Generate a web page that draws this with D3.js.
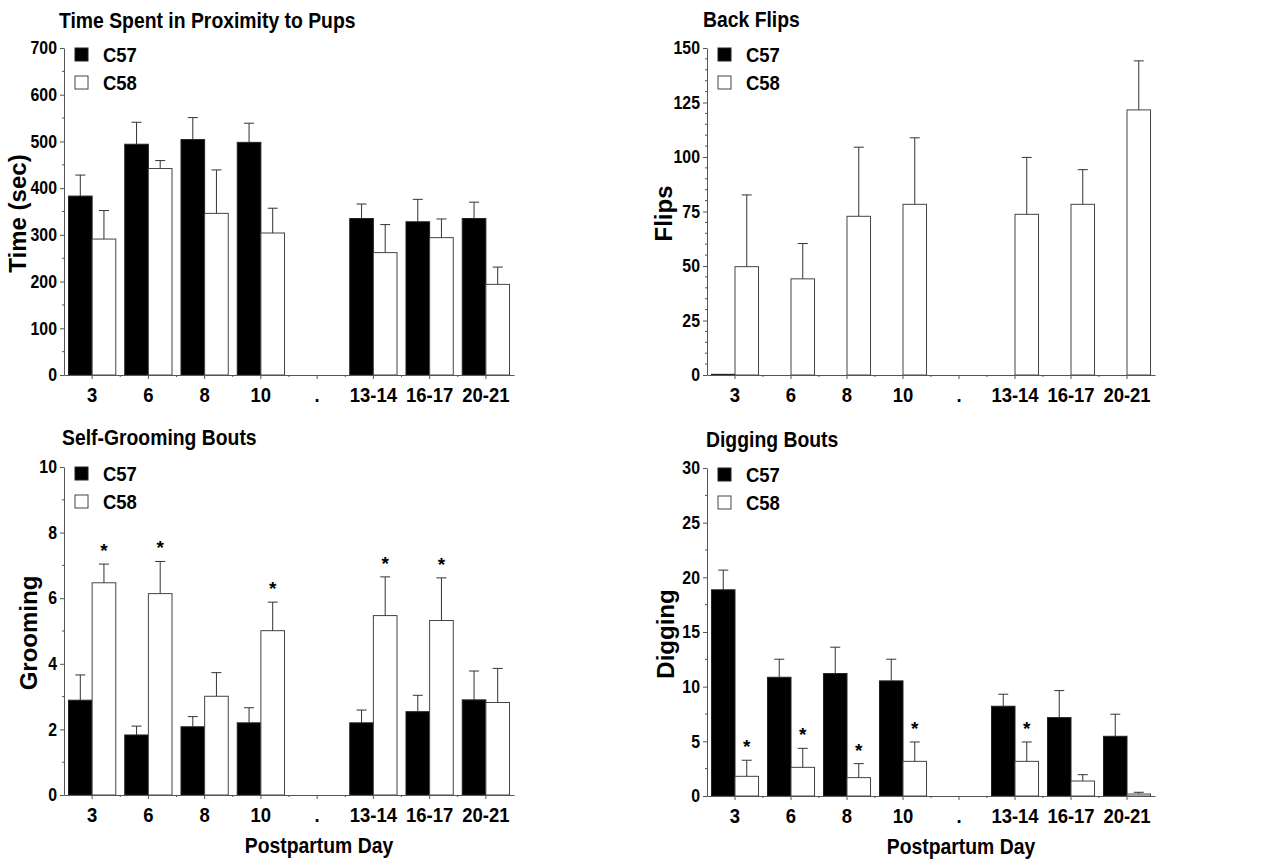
<!DOCTYPE html>
<html>
<head>
<meta charset="utf-8">
<script src="https://cdn.jsdelivr.net/npm/d3@7.9.0/dist/d3.min.js"></script>
<style>
    body { margin: 0; background: #fff; }
    svg text { font-family: "Liberation Sans", Arial, sans-serif; font-weight: bold; fill: #000; }
</style>
</head>
<body>
<svg id="chart" width="1285" height="861"></svg>
<script>
const days = ['3', '6', '8', '10', '.', '13-14', '16-17', '20-21'];
const strains = ['C57', 'C58'];

// time spent in proximity to pups (sec)
const proxC57 = [383, 494, 504, 498, null, 335, 328, 335];
const proxC57Err = [428, 541, 551, 539, null, 366, 376, 370];
const proxC58 = [291, 442, 346, 304, null, 262, 294, 194];
const proxC58Err = [352, 459, 439, 357, null, 322, 334, 231];

// back flips
const flipC57 = [0.3, 0, 0, 0, null, 0, 0, 0];
const flipC57Err = [0.3, 0, 0, 0, null, 0, 0, 0];
const flipC58 = [49.7, 44.1, 72.8, 78.3, null, 73.7, 78.3, 121.6];
const flipC58Err = [82.6, 60.3, 104.5, 108.8, null, 99.8, 94.2, 144.1];

// self-grooming bouts
const groomC57 = [2.89, 1.83, 2.08, 2.2, null, 2.2, 2.54, 2.9];
const groomC57Err = [3.66, 2.1, 2.39, 2.66, null, 2.59, 3.04, 3.78];
const groomC58 = [6.47, 6.14, 3.01, 5.01, null, 5.47, 5.32, 2.82];
const groomC58Err = [7.04, 7.12, 3.73, 5.88, null, 6.65, 6.62, 3.86];
const groomSig = ['3', '6', '10', '13-14', '16-17'];

// digging bouts
const digC57 = [18.86, 10.86, 11.2, 10.53, null, 8.21, 7.17, 5.46];
const digC57Err = [20.66, 12.51, 13.61, 12.51, null, 9.31, 9.64, 7.48];
const digC58 = [1.8, 2.62, 1.68, 3.17, null, 3.17, 1.37, 0.18];
const digC58Err = [3.27, 4.36, 2.96, 4.94, null, 4.94, 1.95, 0.34];
const digSig = ['3', '6', '8', '10', '13-14'];

const svg = d3.select('#chart');
const narrow = 'scale(0.88,1)';
const axisColor = '#555';

const panels = [
    {
        title: 'Time Spent in Proximity to Pups', yLabel: 'Time (sec)',
        left: 64, top: 48, width: 450, height: 327,
        max: 700, step: 100, minor: 50,
        c57: proxC57, c57Err: proxC57Err, c58: proxC58, c58Err: proxC58Err, sig: [],
        titleX: 59, titleY: 28, yLabelX: 26, xTitle: false,
    },
    {
        title: 'Back Flips', yLabel: 'Flips',
        left: 707, top: 48, width: 448, height: 327,
        max: 150, step: 25, minor: 5,
        c57: flipC57, c57Err: flipC57Err, c58: flipC58, c58Err: flipC58Err, sig: [],
        titleX: 703, titleY: 27, yLabelX: 672, xTitle: false,
    },
    {
        title: 'Self-Grooming Bouts', yLabel: 'Grooming',
        left: 64, top: 467, width: 450, height: 328,
        max: 10, step: 2, minor: 1,
        c57: groomC57, c57Err: groomC57Err, c58: groomC58, c58Err: groomC58Err, sig: groomSig,
        titleX: 62, titleY: 445, yLabelX: 37, xTitle: true,
    },
    {
        title: 'Digging Bouts', yLabel: 'Digging',
        left: 707, top: 468, width: 448, height: 328,
        max: 30, step: 5, minor: 2.5,
        c57: digC57, c57Err: digC57Err, c58: digC58, c58Err: digC58Err, sig: digSig,
        titleX: 706, titleY: 447, yLabelX: 674, xTitle: true,
    },
];

function drawPanel(p) {
    const g = svg.append('g').attr('transform', `translate(${p.left},${p.top})`);

    const x = d3.scaleBand().domain(days).range([0, p.width]);
    const sub = d3.scaleBand().domain(strains).range([0, x.bandwidth()]).paddingOuter(0.19);
    const y = d3.scaleLinear().domain([0, p.max]).range([p.height, 0]);

    // minor ticks on y
    const minorTicks = d3.range(0, p.max + 0.001, p.minor).filter(v => Math.abs(v / p.step - Math.round(v / p.step)) > 1e-6);
    g.append('g').selectAll('line').data(minorTicks).join('line')
        .attr('x1', -2).attr('x2', 0)
        .attr('y1', d => y(d)).attr('y2', d => y(d))
        .attr('stroke', axisColor);

    const yAxis = g.append('g')
        .call(d3.axisLeft(y).tickValues(d3.range(0, p.max + 0.001, p.step)).tickSize(4).tickSizeOuter(0).tickPadding(4));
    yAxis.select('.domain').attr('stroke', axisColor);
    yAxis.selectAll('.tick line').attr('stroke', axisColor);
    yAxis.selectAll('.tick text').attr('font-size', 18).attr('transform', narrow);

    // bars
    const series = [
        { key: 'C57', vals: p.c57, errs: p.c57Err, fill: '#000', stroke: '#222' },
        { key: 'C58', vals: p.c58, errs: p.c58Err, fill: '#fff', stroke: '#444' },
    ];
    series.forEach(s => {
        const rows = days.map((d, i) => ({ day: d, v: s.vals[i], e: s.errs[i] })).filter(r => r.v !== null);
        const cx = r => x(r.day) + sub(s.key) + sub.bandwidth() / 2;

        g.append('g').selectAll('rect').data(rows.filter(r => r.v > 0)).join('rect')
            .attr('x', r => x(r.day) + sub(s.key))
            .attr('y', r => y(r.v))
            .attr('width', sub.bandwidth())
            .attr('height', r => y(0) - y(r.v))
            .attr('fill', s.fill)
            .attr('stroke', s.stroke)
            .attr('stroke-width', 1);

        const eb = rows.filter(r => r.e > r.v);
        g.append('g').selectAll('line').data(eb).join('line')
            .attr('x1', cx).attr('x2', cx)
            .attr('y1', r => y(r.v)).attr('y2', r => y(r.e))
            .attr('stroke', '#333');
        g.append('g').selectAll('line').data(eb).join('line')
            .attr('x1', r => cx(r) - 5).attr('x2', r => cx(r) + 5)
            .attr('y1', r => y(r.e)).attr('y2', r => y(r.e))
            .attr('stroke', '#333');

        if (s.key === 'C58') {
            g.append('g').selectAll('text').data(rows.filter(r => p.sig.includes(r.day))).join('text')
                .attr('x', cx)
                .attr('y', r => y(r.e) - 7)
                .attr('text-anchor', 'middle')
                .attr('font-size', 19)
                .attr('font-weight', 'normal')
                .text('*');
        }
    });

    // x axis
    const xAxis = g.append('g')
        .attr('transform', `translate(0,${p.height})`)
        .call(d3.axisBottom(x).tickSize(4).tickSizeOuter(0).tickPadding(8));
    xAxis.select('.domain').attr('stroke', axisColor);
    xAxis.selectAll('.tick line').attr('stroke', axisColor);
    xAxis.selectAll('.tick text').attr('font-size', 21).attr('transform', narrow);
    xAxis.append('g').selectAll('line').data(days.slice(1)).join('line')
        .attr('x1', d => x(d)).attr('x2', d => x(d))
        .attr('y1', 0).attr('y2', 2)
        .attr('stroke', axisColor);

    // legend
    const legend = g.append('g').attr('transform', 'translate(11,0)');
    series.forEach((s, i) => {
        legend.append('rect')
            .attr('x', 0).attr('y', i * 28)
            .attr('width', 13).attr('height', 13)
            .attr('fill', s.fill).attr('stroke', s.stroke);
        legend.append('text')
            .attr('transform', `translate(28,${i * 28 + 14}) ${narrow}`)
            .attr('font-size', 21)
            .text(s.key);
    });

    // titles
    svg.append('text')
        .attr('transform', `translate(${p.titleX},${p.titleY}) ${narrow}`)
        .attr('font-size', 22)
        .text(p.title);

    svg.append('text')
        .attr('transform', `translate(${p.yLabelX},${p.top + p.height / 2 + 2}) rotate(-90)`)
        .attr('text-anchor', 'middle')
        .attr('font-size', 24)
        .text(p.yLabel);

    if (p.xTitle) {
        svg.append('text')
            .attr('transform', `translate(${p.left + p.width / 2 + 30},${p.top + p.height + 58}) ${narrow}`)
            .attr('text-anchor', 'middle')
            .attr('font-size', 22)
            .text('Postpartum Day');
    }
}

panels.forEach(drawPanel);
</script>
</body>
</html>
